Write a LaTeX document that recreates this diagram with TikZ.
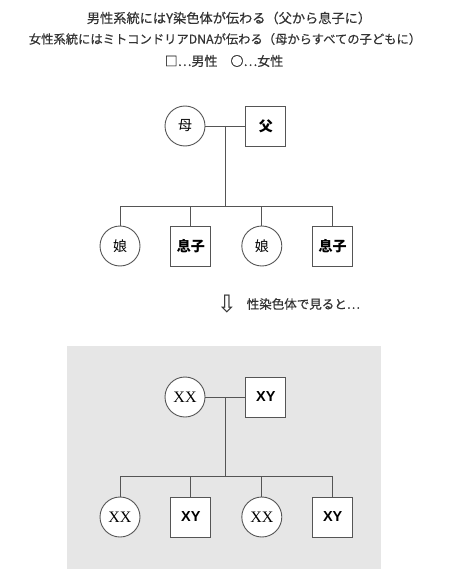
\documentclass[tikz,border=0pt]{standalone}
\usepackage{fontspec}
\setmainfont{Liberation Serif}
\setsansfont{Liberation Sans}
\newfontfamily\jpsans{Noto Sans CJK JP}
\newfontfamily\jpmed[FakeBold=0.5]{Noto Sans CJK JP}
\newfontfamily\symfont{DejaVu Sans}
\usetikzlibrary{calc,
positioning}
\definecolor{textgray}{HTML}{333333}
\definecolor{linegray}{HTML}{555555}
\definecolor{boxgray}{HTML}{E6E6E6}

\begin{document}
\begin{tikzpicture} [x = 1pt,
        y = -1pt,
        auto,
        tie/.style={draw = linegray, line width = 0.9pt},
        fem node/.style={circle, draw = linegray, fill = white,
                line width = 0.9pt, minimum size = 40pt, inner sep = 0pt},
        mal node/.style={rectangle, draw = linegray, fill = white,
                line width = 0.9pt, minimum size = 40pt, inner sep = 0pt},
        title/.style={text = textgray, align = center,
                font = \jpmed\fontsize{12.5}{14}\selectfont}]

    \useasboundingbox (0, 0) rectangle (450, 588);

    \node [title, font = \jpmed\fontsize{13.2}{14}\selectfont] (title_y) at (229, 18) {男性系統にはY染色体が伝わる（父から息子に）};
    \node [title, font = \jpmed\fontsize{12.3}{14}\selectfont] (title_mt) at (225, 39) {女性系統にはミトコンドリアDNAが伝わる（母からすべての子どもに）};
    \node [title, font = \jpmed\fontsize{13}{14}\selectfont] (legend) at (224, 61) {□⋯男性\quad ○⋯女性};

    % family
    \node [
        fem node,
        font = \jpsans\fontsize{14}{14}\selectfont
    ] (mother) at (185, 126) {母};

    \node [
        mal node,
        font = \jpsans\bfseries\fontsize{14}{14}\selectfont,
        right = 40pt of mother
    ] (father)  {父};

    \node [
        fem node,
        font = \jpsans\fontsize{14}{14}\selectfont
    ] (dau_a) at (120, 246) {娘};

    \node [
        mal node,
        font = \jpsans\bfseries\fontsize{14}{14}\selectfont,
        right = 30pt of dau_a
    ] (son_a)  {息子};

    \node [
        fem node,
        font = \jpsans\fontsize{14}{14}\selectfont,
        right = 30pt of son_a
    ] (dau_b)  {娘};

    \node [
        mal node,
        font = \jpsans\bfseries\fontsize{14}{14}\selectfont,
        right = 30pt of dau_b
    ] (son_b)  {息子};

    \coordinate (couple) at ($(mother.east)!0.5!(father.west)$);
    \coordinate (kids) at (couple |- 0, 206);

    \draw [tie] (mother) -- (father);
    \draw [tie] (couple) -- (kids);
    \draw [tie] (kids) -| (dau_a.north);
    \draw [tie] (kids) -| (son_a.north);
    \draw [tie] (kids) -| (dau_b.north);
    \draw [tie] (kids) -| (son_b.north);

    \node [
        text = textgray,
        inner sep = 0pt,
        font = \symfont\fontsize{24}{24}\selectfont
    ] (arrow) at (227, 304) {⇩};

    \node [
        title,
        font = \jpmed\fontsize{12.5}{14}\selectfont,
        right = 6pt of arrow
    ] (arrow_leg)  {性染色体で見ると⋯};

    % chromosomes
    \fill [boxgray] (67, 346) rectangle (381, 569);

    \node [
        fem node,
        font = \fontsize{16}{16}\selectfont
    ] (mother_xx) at (185, 397) {XX};

    \node [
        mal node,
        font = \sffamily\bfseries\fontsize{14.5}{14.5}\selectfont,
        right = 40pt of mother_xx
    ] (father_xy)  {XY};

    \node [
        fem node,
        font = \fontsize{16}{16}\selectfont
    ] (dau_a_xx) at (120, 517) {XX};

    \node [
        mal node,
        font = \sffamily\bfseries\fontsize{14.5}{14.5}\selectfont,
        right = 30pt of dau_a_xx
    ] (son_a_xy)  {XY};

    \node [
        fem node,
        font = \fontsize{16}{16}\selectfont,
        right = 30pt of son_a_xy
    ] (dau_b_xx)  {XX};

    \node [
        mal node,
        font = \sffamily\bfseries\fontsize{14.5}{14.5}\selectfont,
        right = 30pt of dau_b_xx
    ] (son_b_xy)  {XY};

    \coordinate (couple_xy) at ($(mother_xx.east)!0.5!(father_xy.west)$);
    \coordinate (kids_xy) at (couple_xy |- 0, 476);

    \draw [tie] (mother_xx) -- (father_xy);
    \draw [tie] (couple_xy) -- (kids_xy);
    \draw [tie] (kids_xy) -| (dau_a_xx.north);
    \draw [tie] (kids_xy) -| (son_a_xy.north);
    \draw [tie] (kids_xy) -| (dau_b_xx.north);
    \draw [tie] (kids_xy) -| (son_b_xy.north);

\end{tikzpicture}
\end{document}
